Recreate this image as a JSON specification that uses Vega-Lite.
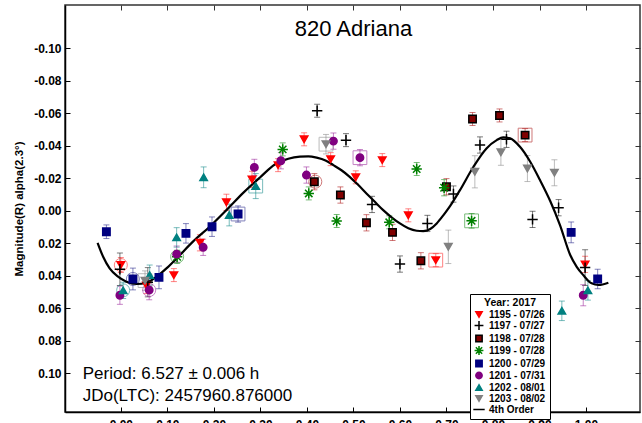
{
  "$schema": "https://vega.github.io/schema/vega-lite/v6.json",
  "width": 575,
  "height": 407,
  "autosize": {"type": "none"},
  "padding": {"left": 65, "top": 5, "right": 2, "bottom": 11},
  "background": "white",
  "datasets": {
    "points": [
      {"series": "1195 - 07/26", "phase": 0.000, "mag": 0.0334, "err": 0.0046},
      {"series": "1195 - 07/26", "phase": 0.055, "mag": 0.046, "err": 0.005},
      {"series": "1195 - 07/26", "phase": 0.114, "mag": 0.0396, "err": 0.004},
      {"series": "1195 - 07/26", "phase": 0.170, "mag": 0.0197, "err": 0.005},
      {"series": "1195 - 07/26", "phase": 0.227, "mag": -0.0052, "err": 0.005},
      {"series": "1195 - 07/26", "phase": 0.282, "mag": -0.0193, "err": 0.005},
      {"series": "1195 - 07/26", "phase": 0.338, "mag": -0.0281, "err": 0.004},
      {"series": "1195 - 07/26", "phase": 0.394, "mag": -0.044, "err": 0.004},
      {"series": "1195 - 07/26", "phase": 0.451, "mag": -0.0318, "err": 0.004},
      {"series": "1195 - 07/26", "phase": 0.505, "mag": -0.0206, "err": 0.004},
      {"series": "1195 - 07/26", "phase": 0.562, "mag": -0.0312, "err": 0.004},
      {"series": "1195 - 07/26", "phase": 0.618, "mag": 0.0028, "err": 0.004},
      {"series": "1195 - 07/26", "phase": 0.677, "mag": 0.0304, "err": 0.004},
      {"series": "1195 - 07/26", "phase": 0.998, "mag": 0.033, "err": 0.005},
      {"series": "1197 - 07/27", "phase": -0.002, "mag": 0.036, "err": 0.010},
      {"series": "1197 - 07/27", "phase": 0.058, "mag": 0.044, "err": 0.009},
      {"series": "1197 - 07/27", "phase": 0.422, "mag": -0.0616, "err": 0.004},
      {"series": "1197 - 07/27", "phase": 0.484, "mag": -0.0435, "err": 0.004},
      {"series": "1197 - 07/27", "phase": 0.540, "mag": -0.0039, "err": 0.005},
      {"series": "1197 - 07/27", "phase": 0.600, "mag": 0.0328, "err": 0.005},
      {"series": "1197 - 07/27", "phase": 0.659, "mag": 0.0078, "err": 0.005},
      {"series": "1197 - 07/27", "phase": 0.715, "mag": -0.0103, "err": 0.005},
      {"series": "1197 - 07/27", "phase": 0.772, "mag": -0.0405, "err": 0.005},
      {"series": "1197 - 07/27", "phase": 0.829, "mag": -0.044, "err": 0.005},
      {"series": "1197 - 07/27", "phase": 0.885, "mag": 0.0053, "err": 0.005},
      {"series": "1197 - 07/27", "phase": 0.941, "mag": -0.0019, "err": 0.005},
      {"series": "1197 - 07/27", "phase": 0.998, "mag": 0.035, "err": 0.011},
      {"series": "1198 - 07/28", "phase": 0.416, "mag": -0.0179, "err": 0.005},
      {"series": "1198 - 07/28", "phase": 0.472, "mag": -0.0097, "err": 0.005},
      {"series": "1198 - 07/28", "phase": 0.528, "mag": 0.0074, "err": 0.005},
      {"series": "1198 - 07/28", "phase": 0.584, "mag": 0.0133, "err": 0.005},
      {"series": "1198 - 07/28", "phase": 0.645, "mag": 0.0308, "err": 0.005},
      {"series": "1198 - 07/28", "phase": 0.700, "mag": -0.0148, "err": 0.005},
      {"series": "1198 - 07/28", "phase": 0.756, "mag": -0.0565, "err": 0.004},
      {"series": "1198 - 07/28", "phase": 0.814, "mag": -0.0587, "err": 0.004},
      {"series": "1198 - 07/28", "phase": 0.869, "mag": -0.0466, "err": 0.004},
      {"series": "1199 - 07/28", "phase": 0.121, "mag": 0.0283, "err": 0.004},
      {"series": "1199 - 07/28", "phase": 0.348, "mag": -0.0378, "err": 0.004},
      {"series": "1199 - 07/28", "phase": 0.404, "mag": -0.0107, "err": 0.004},
      {"series": "1199 - 07/28", "phase": 0.464, "mag": 0.0063, "err": 0.004},
      {"series": "1199 - 07/28", "phase": 0.577, "mag": 0.0071, "err": 0.004},
      {"series": "1199 - 07/28", "phase": 0.636, "mag": -0.0257, "err": 0.004},
      {"series": "1199 - 07/28", "phase": 0.695, "mag": -0.0142, "err": 0.005},
      {"series": "1199 - 07/28", "phase": 0.754, "mag": 0.0062, "err": 0.0045},
      {"series": "1200 - 07/29", "phase": -0.031, "mag": 0.0129, "err": 0.0042},
      {"series": "1200 - 07/29", "phase": 0.026, "mag": 0.042, "err": 0.0067},
      {"series": "1200 - 07/29", "phase": 0.082, "mag": 0.041, "err": 0.007},
      {"series": "1200 - 07/29", "phase": 0.140, "mag": 0.0139, "err": 0.006},
      {"series": "1200 - 07/29", "phase": 0.196, "mag": 0.0098, "err": 0.006},
      {"series": "1200 - 07/29", "phase": 0.252, "mag": 0.002, "err": 0.005},
      {"series": "1200 - 07/29", "phase": 0.968, "mag": 0.0133, "err": 0.0064},
      {"series": "1200 - 07/29", "phase": 1.025, "mag": 0.042, "err": 0.006},
      {"series": "1201 - 07/31", "phase": -0.002, "mag": 0.052, "err": 0.0056},
      {"series": "1201 - 07/31", "phase": 0.061, "mag": 0.0488, "err": 0.006},
      {"series": "1201 - 07/31", "phase": 0.120, "mag": 0.0267, "err": 0.005},
      {"series": "1201 - 07/31", "phase": 0.177, "mag": 0.0225, "err": 0.005},
      {"series": "1201 - 07/31", "phase": 0.287, "mag": -0.0267, "err": 0.005},
      {"series": "1201 - 07/31", "phase": 0.344, "mag": -0.0308, "err": 0.005},
      {"series": "1201 - 07/31", "phase": 0.399, "mag": -0.022, "err": 0.005},
      {"series": "1201 - 07/31", "phase": 0.457, "mag": -0.0429, "err": 0.005},
      {"series": "1201 - 07/31", "phase": 0.514, "mag": -0.0327, "err": 0.005},
      {"series": "1201 - 07/31", "phase": 0.994, "mag": 0.052, "err": 0.0065},
      {"series": "1202 - 08/01", "phase": 0.005, "mag": 0.049, "err": 0.005},
      {"series": "1202 - 08/01", "phase": 0.062, "mag": 0.0396, "err": 0.0062},
      {"series": "1202 - 08/01", "phase": 0.120, "mag": 0.0164, "err": 0.006},
      {"series": "1202 - 08/01", "phase": 0.178, "mag": -0.0206, "err": 0.0064},
      {"series": "1202 - 08/01", "phase": 0.233, "mag": 0.0026, "err": 0.0067},
      {"series": "1202 - 08/01", "phase": 0.290, "mag": -0.0152, "err": 0.0077},
      {"series": "1202 - 08/01", "phase": 0.948, "mag": 0.0616, "err": 0.006},
      {"series": "1202 - 08/01", "phase": 1.004, "mag": 0.049, "err": 0.006},
      {"series": "1203 - 08/02", "phase": 0.052, "mag": 0.043, "err": 0.006},
      {"series": "1203 - 08/02", "phase": 0.441, "mag": -0.041, "err": 0.006},
      {"series": "1203 - 08/02", "phase": 0.704, "mag": 0.0222, "err": 0.0103},
      {"series": "1203 - 08/02", "phase": 0.761, "mag": -0.024, "err": 0.0099},
      {"series": "1203 - 08/02", "phase": 0.817, "mag": -0.036, "err": 0.008},
      {"series": "1203 - 08/02", "phase": 0.874, "mag": -0.026, "err": 0.008},
      {"series": "1203 - 08/02", "phase": 0.932, "mag": -0.0234, "err": 0.008}
    ],
    "ringC": [
      {"series": "1195 - 07/26", "phase": 0.000, "mag": 0.0334},
      {"series": "1202 - 08/01", "phase": 0.005, "mag": 0.049},
      {"series": "1200 - 07/29", "phase": 0.026, "mag": 0.042},
      {"series": "1201 - 07/31", "phase": 0.061, "mag": 0.0488},
      {"series": "1199 - 07/28", "phase": 0.121, "mag": 0.0283},
      {"series": "1198 - 07/28", "phase": 0.418, "mag": -0.0179}
    ],
    "ringS": [
      {"series": "1203 - 08/02", "phase": 0.052, "mag": 0.043},
      {"series": "1200 - 07/29", "phase": 0.252, "mag": 0.002},
      {"series": "1202 - 08/01", "phase": 0.290, "mag": -0.0152},
      {"series": "1203 - 08/02", "phase": 0.441, "mag": -0.041},
      {"series": "1201 - 07/31", "phase": 0.514, "mag": -0.0327},
      {"series": "1195 - 07/26", "phase": 0.677, "mag": 0.0304},
      {"series": "1199 - 07/28", "phase": 0.754, "mag": 0.0062},
      {"series": "1198 - 07/28", "phase": 0.869, "mag": -0.0466}
    ],
    "curve": [
      {"series": "4th Order", "phase": -0.050, "mag": 0.0197},
      {"series": "4th Order", "phase": -0.038, "mag": 0.0283},
      {"series": "4th Order", "phase": -0.024, "mag": 0.0355},
      {"series": "4th Order", "phase": -0.006, "mag": 0.0406},
      {"series": "4th Order", "phase": 0.012, "mag": 0.0437},
      {"series": "4th Order", "phase": 0.034, "mag": 0.0451},
      {"series": "4th Order", "phase": 0.055, "mag": 0.0443},
      {"series": "4th Order", "phase": 0.077, "mag": 0.0406},
      {"series": "4th Order", "phase": 0.098, "mag": 0.0355},
      {"series": "4th Order", "phase": 0.120, "mag": 0.0293},
      {"series": "4th Order", "phase": 0.155, "mag": 0.0190},
      {"series": "4th Order", "phase": 0.191, "mag": 0.0098},
      {"series": "4th Order", "phase": 0.227, "mag": -0.0004},
      {"series": "4th Order", "phase": 0.263, "mag": -0.0110},
      {"series": "4th Order", "phase": 0.299, "mag": -0.0205},
      {"series": "4th Order", "phase": 0.331, "mag": -0.0285},
      {"series": "4th Order", "phase": 0.360, "mag": -0.0320},
      {"series": "4th Order", "phase": 0.385, "mag": -0.0333},
      {"series": "4th Order", "phase": 0.403, "mag": -0.0335},
      {"series": "4th Order", "phase": 0.421, "mag": -0.0327},
      {"series": "4th Order", "phase": 0.440, "mag": -0.0310},
      {"series": "4th Order", "phase": 0.457, "mag": -0.0281},
      {"series": "4th Order", "phase": 0.475, "mag": -0.0248},
      {"series": "4th Order", "phase": 0.492, "mag": -0.0209},
      {"series": "4th Order", "phase": 0.510, "mag": -0.0160},
      {"series": "4th Order", "phase": 0.528, "mag": -0.0107},
      {"series": "4th Order", "phase": 0.546, "mag": -0.0055},
      {"series": "4th Order", "phase": 0.564, "mag": -0.0004},
      {"series": "4th Order", "phase": 0.582, "mag": 0.0040},
      {"series": "4th Order", "phase": 0.600, "mag": 0.0078},
      {"series": "4th Order", "phase": 0.618, "mag": 0.0108},
      {"series": "4th Order", "phase": 0.636, "mag": 0.0123},
      {"series": "4th Order", "phase": 0.650, "mag": 0.0125},
      {"series": "4th Order", "phase": 0.665, "mag": 0.0112},
      {"series": "4th Order", "phase": 0.679, "mag": 0.0078},
      {"series": "4th Order", "phase": 0.694, "mag": 0.0025},
      {"series": "4th Order", "phase": 0.708, "mag": -0.0030},
      {"series": "4th Order", "phase": 0.729, "mag": -0.0127},
      {"series": "4th Order", "phase": 0.758, "mag": -0.0271},
      {"series": "4th Order", "phase": 0.786, "mag": -0.0384},
      {"series": "4th Order", "phase": 0.808, "mag": -0.0435},
      {"series": "4th Order", "phase": 0.822, "mag": -0.0452},
      {"series": "4th Order", "phase": 0.837, "mag": -0.0446},
      {"series": "4th Order", "phase": 0.858, "mag": -0.0394},
      {"series": "4th Order", "phase": 0.880, "mag": -0.0302},
      {"series": "4th Order", "phase": 0.901, "mag": -0.0189},
      {"series": "4th Order", "phase": 0.923, "mag": -0.0060},
      {"series": "4th Order", "phase": 0.944, "mag": 0.0088},
      {"series": "4th Order", "phase": 0.966, "mag": 0.0272},
      {"series": "4th Order", "phase": 0.980, "mag": 0.0345},
      {"series": "4th Order", "phase": 0.994, "mag": 0.0396},
      {"series": "4th Order", "phase": 1.012, "mag": 0.0447},
      {"series": "4th Order", "phase": 1.027, "mag": 0.0457},
      {"series": "4th Order", "phase": 1.048, "mag": 0.0443}
    ],
    "notes": [
      {"phase": -0.082, "mag": 0.1036, "label": "Period: 6.527 ± 0.006 h"},
      {"phase": -0.082, "mag": 0.1171, "label": "JDo(LTC): 2457960.876000"}
    ],
    "heading": [
      {"phase": 0.5, "mag": -0.1075, "label": "820 Adriana"}
    ]
  },
  "resolve": {"axis": {"x": "independent", "y": "independent"}},
  "layer": [
    {
      "data": {"name": "points"},
      "mark": {"type": "errorbar", "ticks": true, "size": 6, "thickness": 1, "opacity": 0.6},
      "encoding": {
        "x": {"field": "phase", "type": "quantitative", "scale": {"domain": [-0.12, 1.116], "nice": false, "zero": false},
              "axis": {"orient": "top", "labels": false, "title": null, "domain": false, "grid": false, "tickSize": -5, "tickColor": "#333333", "values": [0, 0.1, 0.2, 0.3, 0.4, 0.5, 0.6, 0.7, 0.8, 0.9, 1.0]}},
        "y": {"field": "mag", "type": "quantitative", "scale": {"domain": [-0.1267, 0.1239], "reverse": true, "nice": false, "zero": false},
              "axis": {"orient": "right", "labels": false, "title": null, "domain": false, "grid": false, "tickSize": -5, "tickColor": "#333333", "values": [-0.1, -0.08, -0.06, -0.04, -0.02, 0, 0.02, 0.04, 0.06, 0.08, 0.1]}},
        "yError": {"field": "err"},
        "color": {"field": "series", "type": "nominal", "legend": null,
                  "scale": {"domain": ["1195 - 07/26", "1197 - 07/27", "1198 - 07/28", "1199 - 07/28", "1200 - 07/29", "1201 - 07/31", "1202 - 08/01", "1203 - 08/02"],
                            "range": ["#ff3030", "#222222", "#b02020", "#209020", "#303090", "#a030a0", "#209090", "#909090"]}}
      }
    },
    {
      "data": {"name": "ringC"},
      "mark": {"type": "point", "shape": "circle", "filled": false, "size": 170, "strokeWidth": 1, "opacity": 0.6},
      "encoding": {
        "x": {"field": "phase", "type": "quantitative", "axis": null},
        "y": {"field": "mag", "type": "quantitative", "axis": null},
        "color": {"field": "series", "type": "nominal", "legend": null}
      }
    },
    {
      "data": {"name": "ringS"},
      "mark": {"type": "point", "shape": "square", "filled": false, "size": 190, "strokeWidth": 1, "opacity": 0.6},
      "encoding": {
        "x": {"field": "phase", "type": "quantitative", "axis": null},
        "y": {"field": "mag", "type": "quantitative", "axis": null},
        "color": {"field": "series", "type": "nominal", "legend": null}
      }
    },
    {
      "data": {"name": "curve"},
      "mark": {"type": "line", "strokeWidth": 2.2, "interpolate": "monotone"},
      "encoding": {
        "x": {"field": "phase", "type": "quantitative", "axis": null},
        "y": {"field": "mag", "type": "quantitative", "axis": null},
        "stroke": {"field": "series", "type": "nominal",
                   "scale": {"domain": ["1195 - 07/26", "1197 - 07/27", "1198 - 07/28", "1199 - 07/28", "1200 - 07/29", "1201 - 07/31", "1202 - 08/01", "1203 - 08/02", "4th Order"],
                             "range": ["#ff0000", "#000000", "#000000", "#008000", "#000080", "#800080", "#008080", "#808080", "#000000"]},
                   "legend": {"title": "Year: 2017", "orient": "none", "legendX": 405, "legendY": 289}}
      }
    },
    {
      "data": {"name": "points"},
      "mark": {"type": "point", "filled": true, "size": 55, "strokeWidth": 1.5, "opacity": 1},
      "encoding": {
        "x": {"field": "phase", "type": "quantitative",
              "axis": {"orient": "bottom", "title": null, "grid": false, "values": [0, 0.1, 0.2, 0.3, 0.4, 0.5, 0.6, 0.7, 0.8, 0.9, 1.0], "format": ".2f",
                       "labelFontSize": 12, "labelFontWeight": "bold", "labelColor": "black", "labelFlush": false, "labelOverlap": false,
                       "tickSize": -5, "tickColor": "black", "labelPadding": 12, "domainColor": "black", "domainWidth": 1.5}},
        "y": {"field": "mag", "type": "quantitative",
              "axis": {"orient": "left", "title": "Magnitude(R) alpha(2.3°)", "titleFontSize": 11.5, "titleFontWeight": "bold", "titleColor": "black", "titlePadding": 9,
                       "grid": false, "values": [-0.1, -0.08, -0.06, -0.04, -0.02, 0, 0.02, 0.04, 0.06, 0.08, 0.1],
                       "labelExpr": "replace(format(datum.value, '.2f'), '\u2212', '-')",
                       "labelFontSize": 12, "labelFontWeight": "bold", "labelColor": "black", "labelFlush": false, "labelOverlap": false,
                       "tickSize": -5, "tickColor": "black", "labelPadding": 9, "domainColor": "black", "domainWidth": 1.5}},
        "shape": {"field": "series", "type": "nominal",
                  "scale": {"domain": ["1195 - 07/26", "1197 - 07/27", "1198 - 07/28", "1199 - 07/28", "1200 - 07/29", "1201 - 07/31", "1202 - 08/01", "1203 - 08/02", "4th Order"],
                            "range": ["triangle-down", "M-1.4,0H1.4M0,-1.4V1.4", "square", "M-1.4,0H1.4M0,-1.4V1.4M-1,-1L1,1M-1,1L1,-1", "square", "circle", "triangle-up", "triangle-down", "M-1.8,0H1.8"]},
                  "legend": {"title": "Year: 2017", "orient": "none", "legendX": 405, "legendY": 289}},
        "fill": {"field": "series", "type": "nominal",
                 "scale": {"domain": ["1195 - 07/26", "1197 - 07/27", "1198 - 07/28", "1199 - 07/28", "1200 - 07/29", "1201 - 07/31", "1202 - 08/01", "1203 - 08/02", "4th Order"],
                           "range": ["#ff0000", "#000000", "#800000", "#008000", "#000080", "#800080", "#008080", "#808080", "transparent"]},
                 "legend": {"title": "Year: 2017", "orient": "none", "legendX": 405, "legendY": 289}},
        "stroke": {"field": "series", "type": "nominal",
                   "scale": {"domain": ["1195 - 07/26", "1197 - 07/27", "1198 - 07/28", "1199 - 07/28", "1200 - 07/29", "1201 - 07/31", "1202 - 08/01", "1203 - 08/02", "4th Order"],
                             "range": ["#ff0000", "#000000", "#000000", "#008000", "#000080", "#800080", "#008080", "#808080", "#000000"]},
                   "legend": {"title": "Year: 2017", "orient": "none", "legendX": 405, "legendY": 289}}
      }
    },
    {
      "data": {"name": "notes"},
      "mark": {"type": "text", "align": "left", "baseline": "alphabetic", "fontSize": 17, "color": "black"},
      "encoding": {
        "x": {"field": "phase", "type": "quantitative", "axis": null},
        "y": {"field": "mag", "type": "quantitative", "axis": null},
        "text": {"field": "label", "type": "nominal"}
      }
    },
    {
      "data": {"name": "heading"},
      "mark": {"type": "text", "align": "center", "baseline": "alphabetic", "fontSize": 22, "color": "black"},
      "encoding": {
        "x": {"field": "phase", "type": "quantitative", "axis": null},
        "y": {"field": "mag", "type": "quantitative", "axis": null},
        "text": {"field": "label", "type": "nominal"}
      }
    }
  ],
  "config": {
    "view": {"stroke": "#333333", "strokeWidth": 1.5},
    "font": "Liberation Sans",
    "legend": {
      "fillColor": "white", "strokeColor": "black", "padding": 4,
      "titleFontSize": 10.5, "titleFontWeight": "bold", "titleColor": "black", "titlePadding": 1, "titleAnchor": "middle",
      "labelFontSize": 10, "labelFontWeight": "bold", "labelColor": "black", "labelOffset": 5,
      "symbolSize": 40, "symbolStrokeWidth": 1.5, "rowPadding": -4.4
    }
  }
}
